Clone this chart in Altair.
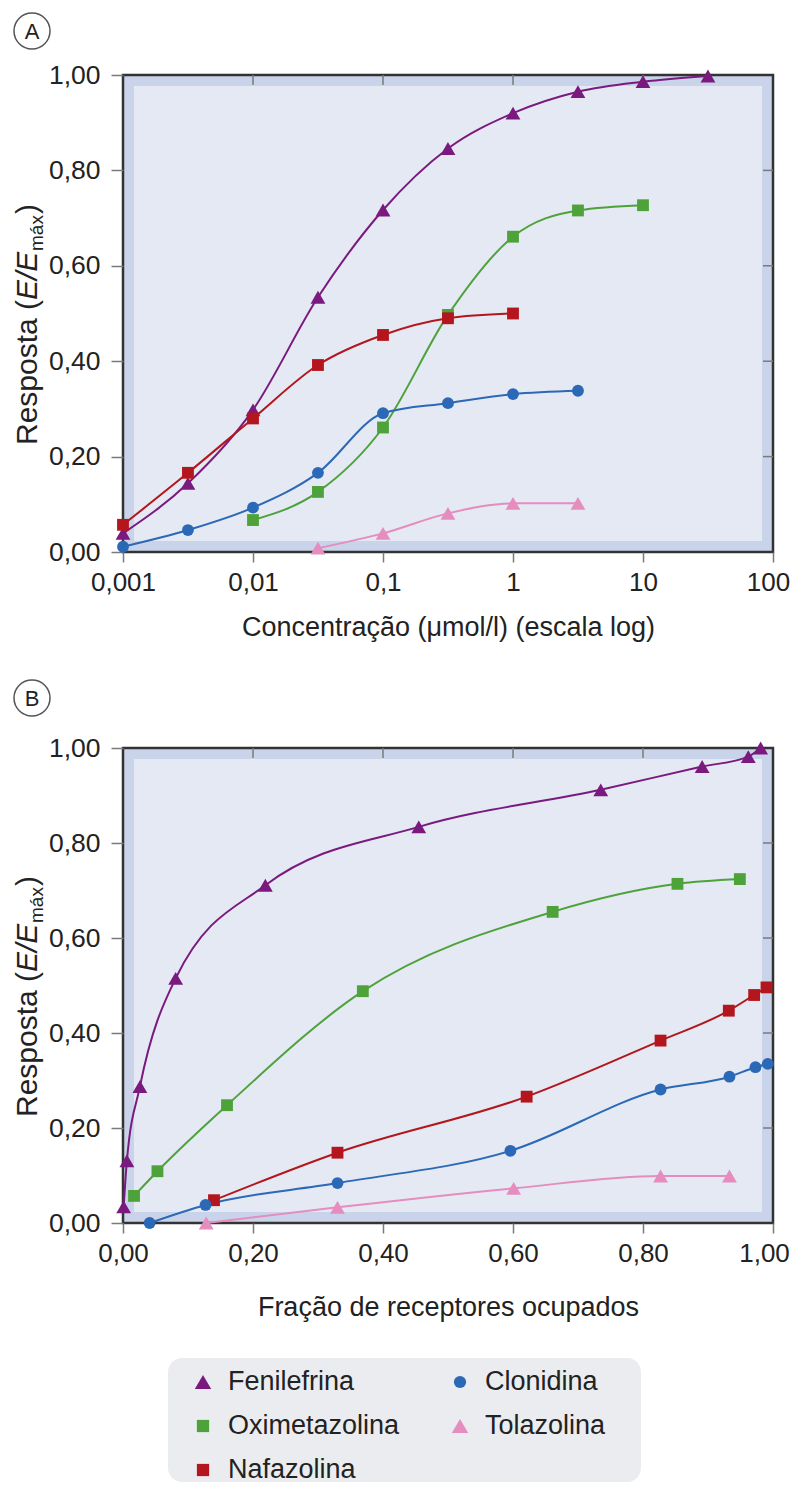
import altair as alt
import pandas as pd

FONT = "Liberation Sans"
DRUGS = ["Fenilefrina", "Clonidina", "Oximetazolina", "Tolazolina", "Nafazolina"]
COLORS = ["#7B1A7E", "#2B68B5", "#4EA23A", "#E48DBE", "#B3161C"]
SHAPES = ["triangle-up", "circle", "square", "triangle-up", "square"]

# Panel A: concentration (umol/l, log scale) vs response
A_CONC_FEN = [0.001, 0.00316, 0.01, 0.0316, 0.1, 0.316, 1, 3.16, 10, 31.6]
A_RESP_FEN = [0.039, 0.144, 0.298, 0.534, 0.717, 0.846, 0.92, 0.965, 0.986, 0.998]
A_CONC_OXI = [0.01, 0.0316, 0.1, 0.316, 1, 3.16, 10]
A_RESP_OXI = [0.067, 0.126, 0.261, 0.497, 0.661, 0.716, 0.727]
A_CONC_NAF = [0.001, 0.00316, 0.01, 0.0316, 0.1, 0.316, 1]
A_RESP_NAF = [0.057, 0.166, 0.280, 0.392, 0.455, 0.490, 0.500]
A_CONC_CLO = [0.001, 0.00316, 0.01, 0.0316, 0.1, 0.316, 1, 3.16]
A_RESP_CLO = [0.011, 0.046, 0.093, 0.166, 0.291, 0.312, 0.331, 0.338]
A_CONC_TOL = [0.0316, 0.1, 0.316, 1, 3.16]
A_RESP_TOL = [0.008, 0.039, 0.081, 0.102, 0.102]

# Panel B: fraction of receptors occupied vs response
B_OCC_FEN = [0.001, 0.006, 0.026, 0.081, 0.219, 0.455, 0.735, 0.891, 0.962, 0.981]
B_RESP_FEN = [0.034, 0.131, 0.287, 0.515, 0.711, 0.834, 0.912, 0.961, 0.982, 1.0]
B_OCC_OXI = [0.017, 0.053, 0.160, 0.369, 0.661, 0.853, 0.949]
B_RESP_OXI = [0.057, 0.109, 0.248, 0.488, 0.655, 0.714, 0.724]
B_OCC_NAF = [0.140, 0.330, 0.621, 0.827, 0.932, 0.971, 0.990]
B_RESP_NAF = [0.048, 0.148, 0.266, 0.384, 0.447, 0.480, 0.496]
B_OCC_CLO = [0.041, 0.127, 0.330, 0.596, 0.827, 0.933, 0.973, 0.992]
B_RESP_CLO = [0.0, 0.038, 0.084, 0.152, 0.281, 0.308, 0.328, 0.335]
B_OCC_TOL = [0.128, 0.330, 0.601, 0.827, 0.933]
B_RESP_TOL = [0.0, 0.033, 0.073, 0.099, 0.099]

A_XTICKS = [0.001, 0.01, 0.1, 1, 10, 100]
A_TOP_TICKS = [0.01, 0.1, 1, 10]
B_XTICKS = [0.0, 0.2, 0.4, 0.6, 0.8, 1.0]
B_TOP_TICKS = [0.2, 0.4, 0.6, 0.8]
Y_TICKS = [0.0, 0.2, 0.4, 0.6, 0.8, 1.0]
RIGHT_TICKS = [0.2, 0.4, 0.6, 0.8]


def frame(pairs):
    rows = []
    for name, xs, ys in pairs:
        for i, (xv, yv) in enumerate(zip(xs, ys)):
            rows.append({"drug": name, "x": xv, "y": yv, "o": i})
    return pd.DataFrame(rows)


dfA = frame([
    ("Fenilefrina", A_CONC_FEN, A_RESP_FEN),
    ("Oximetazolina", A_CONC_OXI, A_RESP_OXI),
    ("Nafazolina", A_CONC_NAF, A_RESP_NAF),
    ("Clonidina", A_CONC_CLO, A_RESP_CLO),
    ("Tolazolina", A_CONC_TOL, A_RESP_TOL),
])
dfB = frame([
    ("Fenilefrina", B_OCC_FEN, B_RESP_FEN),
    ("Oximetazolina", B_OCC_OXI, B_RESP_OXI),
    ("Nafazolina", B_OCC_NAF, B_RESP_NAF),
    ("Clonidina", B_OCC_CLO, B_RESP_CLO),
    ("Tolazolina", B_OCC_TOL, B_RESP_TOL),
])

W = 650
BAND = "#C9D4EB"
INNER = "#E4E9F4"
TICK = "#7A7A7A"
one = pd.DataFrame({"a": [0]})

LBL2 = "replace(format(datum.value, '.2f'), '.', ',')"
LBLG = "replace(format(datum.value, '~g'), '.', ',')"

color_enc = alt.Color("drug:N", scale=alt.Scale(domain=DRUGS, range=COLORS), legend=None)
shape_enc = alt.Shape("drug:N", scale=alt.Scale(domain=DRUGS, range=SHAPES), legend=None)
TRI = ["Fenilefrina", "Tolazolina"]
OTH = ["Clonidina", "Oximetazolina", "Nafazolina"]


def panel(df, H, xscale, xticks, xlabel_expr, xtitle, top_ticks, letter, letter_dy, title_pad,
          last_tick, last_shift, with_legend=False):
    yscale = alt.Scale(domain=[0, 1], nice=False, zero=False)
    xax = alt.Axis(values=xticks, labelExpr=xlabel_expr, tickSize=10, labelPadding=7,
                   labelFontSize=26, labelFlush=False,
                   labelOffset={"condition": {"test": f"datum.value >= {last_tick}",
                                              "value": last_shift}, "value": 0},
                   title=xtitle, titlePadding=title_pad, domain=False, grid=False)
    yax = alt.Axis(values=Y_TICKS, labelExpr=LBL2, tickSize=12, labelPadding=11,
                   labelFontSize=26.5, labelFlush=False, title=None, domain=False, grid=False)
    X = lambda f: alt.X(f, scale=xscale, axis=xax, title=xtitle)
    Y = lambda f: alt.Y(f, scale=yscale, axis=yax, title=None)

    inner = alt.Chart(one).mark_rect(fill=INNER).encode(
        x=alt.value(11), x2=alt.value(W - 11), y=alt.value(11), y2=alt.value(H - 11))

    lines = alt.Chart(df).mark_line(interpolate="monotone", strokeWidth=2).encode(
        x=X("x:Q"), y=Y("y:Q"),
        stroke=alt.Stroke("drug:N", scale=alt.Scale(domain=DRUGS, range=COLORS), legend=None),
        order="o:Q",
    )
    topt = alt.Chart(pd.DataFrame({"x": top_ticks})).mark_rule(color=TICK, strokeWidth=1.5).encode(
        x=X("x:Q"), y=alt.value(0), y2=alt.value(10))
    rightt = alt.Chart(pd.DataFrame({"y": RIGHT_TICKS})).mark_rule(color=TICK, strokeWidth=1.5).encode(
        y=Y("y:Q"), x=alt.value(W - 10), x2=alt.value(W))

    tri = alt.Chart(df).transform_filter(
        alt.FieldOneOfPredicate(field="drug", oneOf=TRI)
    ).mark_point(filled=True, opacity=1, size=220).encode(
        x=X("x:Q"), y=Y("y:Q"), color=color_enc, shape=shape_enc)
    oth = alt.Chart(df).transform_filter(
        alt.FieldOneOfPredicate(field="drug", oneOf=OTH)
    ).mark_point(filled=True, opacity=1, size=140).encode(
        x=X("x:Q"), y=Y("y:Q"), color=color_enc, shape=shape_enc)

    # y-axis title: Resposta (E/E_máx)
    fs = 30
    w1, w2, w3, w4 = 145, 49, 37, 10
    total = w1 + w2 + w3 + w4
    y0 = H / 2 + 11 + total / 2
    bx = -86
    common = dict(angle=270, align="left", baseline="alphabetic", font=FONT, color="#222")
    t1 = alt.Chart(one).mark_text(text="Resposta (", fontSize=fs, **common).encode(
        x=alt.value(bx), y=alt.value(y0))
    t2 = alt.Chart(one).mark_text(text="E/E", fontSize=fs, fontStyle="italic", **common).encode(
        x=alt.value(bx), y=alt.value(y0 - w1))
    t3 = alt.Chart(one).mark_text(text="máx", fontSize=19, **common).encode(
        x=alt.value(bx + 6), y=alt.value(y0 - w1 - w2))
    t4 = alt.Chart(one).mark_text(text=")", fontSize=fs, **common).encode(
        x=alt.value(bx), y=alt.value(y0 - w1 - w2 - w3))

    circ = alt.Chart(one).mark_point(shape="circle", filled=False, size=1296, color="#555",
                                     strokeWidth=1.5, opacity=1).encode(
        x=alt.value(-91), y=alt.value(letter_dy))
    let = alt.Chart(one).mark_text(text=letter, fontSize=22, font=FONT, color="#222",
                                   align="center", baseline="middle").encode(
        x=alt.value(-91), y=alt.value(letter_dy + 1))

    layers = [inner, lines, topt, rightt, tri, oth, t1, t2, t3, t4, circ, let]

    if with_legend:
        # legend drawn below the plot, 2 columns, entries in DRUGS order (row-major)
        leg = alt.Chart(pd.DataFrame({"drug": DRUGS})).transform_window(
            idx="row_number()"
        ).transform_calculate(
            col="(datum.idx - 1) % 2",
            row="floor((datum.idx - 1) / 2)",
        ).transform_calculate(
            x=f"(80 + datum.col * 257) / {W}",
            y=f"1 - (634 + datum.row * 44) / {H}",
            sz="indexof(['Fenilefrina', 'Tolazolina'], datum.drug) >= 0 ? 270 : 150",
        )
        bg = alt.Chart(one).mark_rect(fill="#EBECF0", cornerRadius=14).encode(
            x=alt.value(45), x2=alt.value(518), y=alt.value(610), y2=alt.value(734))
        sym = leg.mark_point(filled=True, opacity=1).encode(
            x=X("x:Q"), y=Y("y:Q"), color=color_enc, shape=shape_enc,
            size=alt.Size("sz:Q", scale=None, legend=None))
        txt = leg.mark_text(align="left", baseline="middle", dx=25, fontSize=27, font=FONT,
                            color="#222").encode(x=X("x:Q"), y=Y("y:Q"), text="drug:N")
        layers += [bg, sym, txt]

    return alt.layer(*layers).properties(width=W, height=H)


pA = panel(dfA, 477, alt.Scale(type="log", domain=[0.001, 100], nice=False), A_XTICKS, LBLG,
           "Concentração (μmol/l) (escala log)", A_TOP_TICKS, "A", -44, 19, 99, -5)
pB = panel(dfB, 475, alt.Scale(domain=[0, 1], nice=False, zero=False), B_XTICKS, LBL2,
           "Fração de receptores ocupados", B_TOP_TICKS, "B", -50, 28, 0.99, -9,
           with_legend=True)

chart = alt.vconcat(pA, pB, spacing=196, bounds="flush",
                    padding={"left": 1, "top": 0, "right": 0, "bottom": 0}).configure_view(
    fill=BAND, stroke="#333", strokeWidth=2.5
).configure_axis(
    labelFont=FONT, labelColor="#222",
    titleFont=FONT, titleFontSize=27, titleFontWeight="normal", titleColor="#222",
    tickColor=TICK, tickWidth=1.5,
)

chart.save("out.html", embed_options={"renderer": "svg", "actions": False})
